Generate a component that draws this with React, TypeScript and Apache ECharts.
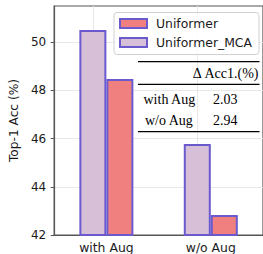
import React, { useEffect, useRef } from "react";
import * as echarts from "echarts";

const categories = ["with Aug", "w/o Aug"];
const seriesNames = ["Uniformer_MCA", "Uniformer"];
const mcaValues = [50.5, 45.77];
const uniValues = [48.47, 42.83];
const yTicks = [42, 44, 46, 48, 50];
const tableHeader = "Δ Acc1.(%)";

export default function App() {
  const ref = useRef<HTMLDivElement>(null);
  useEffect(() => {
    if (!ref.current) return;
    const chart = echarts.init(ref.current, null, { renderer: "svg" });
    const deltas = categories.map((_, i) => (mcaValues[i] - uniValues[i]).toFixed(2));
    const edge = "#6a5acd";
    const axisColor = "#555555";
    const gridColor = "#e8e8e8";
    const serif = "'Liberation Serif', 'Times New Roman', serif";
    const sans = "'DejaVu Sans', sans-serif";
    const rowY = [99.5, 120];
    const graphic: any[] = [
      { type: "line", shape: { x1: 138, y1: 61.7, x2: 259.5, y2: 61.7 }, style: { stroke: "#000", lineWidth: 1.2 }, z: 100 },
      { type: "line", shape: { x1: 138, y1: 84.3, x2: 259.5, y2: 84.3 }, style: { stroke: "#000", lineWidth: 1.2 }, z: 100 },
      { type: "line", shape: { x1: 138, y1: 131.7, x2: 259.5, y2: 131.7 }, style: { stroke: "#000", lineWidth: 1.2 }, z: 100 },
      {
        type: "text", x: 258.5, y: 73, z: 100,
        style: { text: tableHeader, font: `14px ${serif}`, fill: "#000", align: "right", verticalAlign: "middle" },
      },
    ];
    categories.forEach((c, i) => {
      graphic.push({
        type: "text", x: i === 0 ? 143.5 : 145, y: rowY[i], z: 100,
        style: { text: c, font: `14px ${serif}`, fill: "#000", align: "left", verticalAlign: "middle" },
      });
      graphic.push({
        type: "text", x: 213, y: rowY[i], z: 100,
        style: { text: deltas[i], font: `14px ${serif}`, fill: "#000", align: "left", verticalAlign: "middle" },
      });
    });

    chart.setOption({
      animation: false,
      grid: {
        left: 52, top: 6, width: 211.5, height: 229,
        show: true, borderColor: axisColor, borderWidth: 1.2, backgroundColor: "transparent",
      },
      legend: {
        data: ["Uniformer", "Uniformer_MCA"],
        orient: "vertical",
        left: 114, top: 12.5,
        padding: [4, 7, 5, 5],
        itemGap: 5,
        itemWidth: 27, itemHeight: 9,
        icon: "rect",
        borderColor: "#d0d0d0", borderWidth: 1, borderRadius: 3,
        backgroundColor: "rgba(255,255,255,0.85)",
        itemStyle: { borderColor: edge, borderWidth: 2 },
        textStyle: { fontFamily: sans, fontSize: 12.4, color: "#1a1a1a", lineHeight: 14, padding: [0, 0, 0, 4] },
        z: 50,
      },
      xAxis: {
        type: "category",
        data: categories,
        axisLine: { lineStyle: { color: axisColor, width: 1.2 } },
        axisTick: { alignWithLabel: true, length: 3.5, lineStyle: { color: axisColor } },
        axisLabel: { fontFamily: sans, fontSize: 12.4, color: "#1a1a1a", margin: 6 },
        splitLine: { show: false },
      },
      yAxis: {
        type: "value",
        min: 42, max: 51.5, interval: 2,
        name: "Top-1 Acc (%)",
        nameLocation: "middle",
        nameGap: 28,
        nameRotate: 90,
        nameTextStyle: { fontFamily: sans, fontSize: 12.2, color: "#1a1a1a" },
        axisLine: { show: true, lineStyle: { color: axisColor, width: 1.2 } },
        axisTick: { show: true, length: 3.5, lineStyle: { color: axisColor }, customValues: yTicks },
        axisLabel: { fontFamily: sans, fontSize: 12, color: "#1a1a1a", margin: 8, customValues: yTicks },
        splitLine: { show: true, lineStyle: { color: gridColor, width: 1 } },
      },
      series: [
        {
          name: seriesNames[0], type: "bar", data: mcaValues,
          barWidth: 27, barGap: "0%",
          itemStyle: { color: "#d8bfd8", borderColor: edge, borderWidth: 2 },
          markLine: {
            silent: true, symbol: "none", label: { show: false },
            lineStyle: { color: gridColor, width: 1, type: "solid" },
            data: categories.map((c) => ({ xAxis: c })),
            z: 1,
          },
        },
        {
          name: seriesNames[1], type: "bar", data: uniValues,
          barWidth: 27, barGap: "0%",
          itemStyle: { color: "#f08080", borderColor: edge, borderWidth: 2 },
        },
      ],
      graphic,
    });
    return () => chart.dispose();
  }, []);
  return (
    <div
      ref={ref}
      style={{ position: "fixed", left: 0, top: 0, width: 263, height: 254, background: "#fff" }}
    />
  );
}
